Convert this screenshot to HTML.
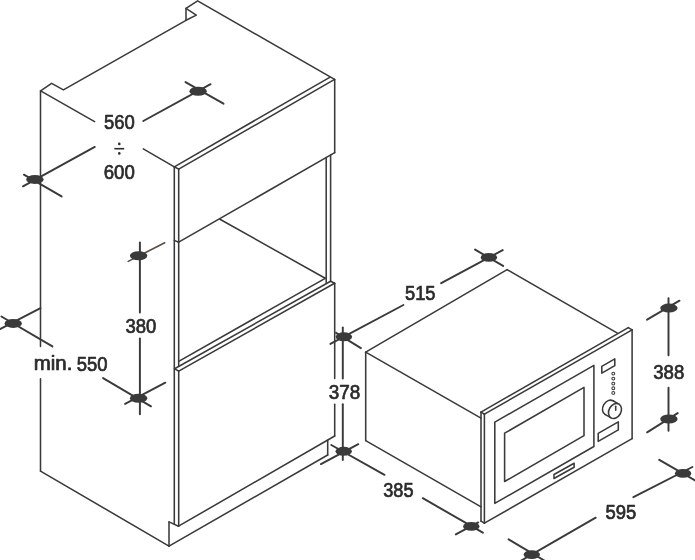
<!DOCTYPE html>
<html><head><meta charset="utf-8"><title>Installation dimensions</title>
<style>html,body{margin:0;padding:0;background:#fff;}body{width:695px;height:560px;overflow:hidden;}svg{display:block;}text{font-family:"Liberation Sans",sans-serif;}</style></head><body>
<svg width="695" height="560" viewBox="0 0 695 560">
<rect width="695" height="560" fill="#fff"/>
<g fill="none" stroke="#3a3a3a" stroke-width="1.55" stroke-linecap="round" stroke-linejoin="round">
<polyline points="40.60,90.85 51.60,83.40 63.40,89.90 186.00,20.30"/>
<polyline points="186.00,20.30 186.00,8.40 197.60,0.90 334.60,79.40"/>
<polyline points="186.00,8.40 196.30,15.10 186.00,20.30"/>
<polyline points="40.50,90.85 40.50,346.40"/>
<polyline points="40.50,378.80 40.50,471.10"/>
<polyline points="40.50,471.10 169.00,546.10"/>
<polyline points="40.60,90.85 94.60,121.70"/>
<polyline points="143.30,148.80 174.30,166.80"/>
<polyline points="174.30,166.80 329.70,77.30"/>
<polyline points="178.70,169.10 334.60,79.40"/>
<polyline points="174.30,166.80 178.70,169.10"/>
<polyline points="174.30,166.80 174.30,523.60"/>
<polyline points="178.70,169.10 178.70,365.90"/>
<polyline points="178.70,371.10 178.70,526.20"/>
<polyline points="334.70,79.40 334.70,152.70"/>
<polyline points="334.70,152.70 178.70,242.20"/>
<polyline points="174.30,240.40 178.70,242.20"/>
<polyline points="219.90,219.20 325.20,278.30"/>
<polyline points="326.20,157.60 326.20,282.50"/>
<polyline points="330.60,155.10 330.60,281.20"/>
<polyline points="325.20,278.30 178.70,361.30"/>
<polyline points="330.60,281.20 174.60,368.80"/>
<polyline points="334.60,283.30 178.70,371.10"/>
<polyline points="330.60,281.20 334.60,283.30"/>
<polyline points="174.60,368.80 178.70,371.10"/>
<polyline points="334.70,283.30 334.70,378.40"/>
<polyline points="334.70,404.30 334.70,436.00"/>
<polyline points="334.70,436.00 178.50,526.20"/>
<polyline points="169.00,521.90 178.50,526.20"/>
<polyline points="169.00,521.90 169.00,546.10"/>
<polyline points="169.00,546.10 327.70,455.00"/>
<polyline points="327.70,455.00 327.70,440.20"/>
<polyline points="365.70,352.20 507.10,269.60"/>
<polyline points="507.10,269.60 617.40,333.20"/>
<polyline points="365.70,352.20 481.00,418.20"/>
<polyline points="365.70,352.20 365.70,440.60"/>
<polyline points="365.70,440.60 481.10,506.80"/>
<polyline points="481.00,412.10 628.30,327.60"/>
<polyline points="484.40,414.20 632.10,329.80"/>
<polyline points="481.00,412.10 484.40,414.20"/>
<polyline points="628.30,327.60 632.10,329.80"/>
<polyline points="481.00,412.10 481.00,521.20"/>
<polyline points="484.40,414.20 484.40,523.20"/>
<polyline points="481.00,521.20 484.40,523.20"/>
<polyline points="632.10,329.80 632.10,438.60"/>
<polyline points="484.40,523.20 632.10,438.60"/>
<polyline points="494.80,422.20 593.90,365.30 593.90,446.50 494.80,503.40 494.80,422.20"/>
<polyline points="504.60,433.20 584.00,387.40 584.00,435.70 504.60,481.50 504.60,433.20"/>
<polyline points="554.00,474.50 574.10,463.20 574.10,467.20 554.00,478.50 554.00,474.50"/>
<polyline points="601.80,366.40 614.80,358.80 614.80,365.60 601.80,373.20 601.80,366.40"/>
<polyline points="598.20,433.40 618.30,421.90 618.30,429.90 598.20,441.40 598.20,433.40"/>
<ellipse cx="609.0" cy="407.6" rx="7.9" ry="6.0" transform="rotate(-60 609.0 407.6)"/>
<polygon points="612.95,400.76 618.95,404.16 611.05,417.84 605.05,414.44" fill="#fff" stroke="none"/>
<line x1="612.95" y1="400.76" x2="618.95" y2="404.16"/>
<line x1="605.05" y1="414.44" x2="611.05" y2="417.84"/>
<ellipse cx="615.0" cy="411.0" rx="7.9" ry="6.0" transform="rotate(-60 615.0 411.0)" fill="#fff"/>
<line x1="615.7" y1="406.3" x2="615.7" y2="410.2"/>
<circle cx="613.3" cy="373.6" r="1.45" stroke-width="1.05"/>
<circle cx="613.3" cy="378.6" r="1.45" stroke-width="1.05"/>
<circle cx="613.3" cy="383.6" r="1.45" stroke-width="1.05"/>
<circle cx="613.3" cy="388.3" r="1.45" stroke-width="1.05"/>
<circle cx="613.3" cy="392.9" r="1.45" stroke-width="1.05"/>
</g>
<g fill="none" stroke="#3a3a3a" stroke-width="1.95" stroke-linecap="round">
<polyline points="185.50,82.10 223.50,103.70"/>
<polyline points="143.30,121.00 210.60,84.20"/>
<polyline points="23.90,174.70 61.60,196.40"/>
<polyline points="23.00,186.30 94.80,146.90"/>
<polyline points="139.90,242.40 139.90,312.60"/>
<polyline points="139.90,338.40 139.90,414.30"/>
<polyline points="125.10,403.90 165.30,382.70"/>
<polyline points="0.00,329.10 40.50,308.20"/>
<polyline points="1.40,316.50 52.40,346.40"/>
<polyline points="103.10,378.10 151.00,406.30"/>
<polyline points="342.80,327.40 342.80,378.40"/>
<polyline points="342.80,404.30 342.80,460.00"/>
<polyline points="336.10,332.80 360.90,348.10"/>
<polyline points="320.90,464.10 358.30,444.20"/>
<polyline points="330.40,343.90 403.40,305.00"/>
<polyline points="441.20,283.20 502.70,250.10"/>
<polyline points="475.10,249.60 503.10,265.90"/>
<polyline points="331.30,445.00 384.50,474.80"/>
<polyline points="422.80,498.20 482.80,532.70"/>
<polyline points="455.80,534.40 478.20,522.40"/>
<polyline points="668.50,298.10 668.50,355.30"/>
<polyline points="668.50,387.80 668.50,430.80"/>
<polyline points="647.10,319.70 679.50,300.70"/>
<polyline points="647.10,432.30 677.70,413.10"/>
<polyline points="508.60,539.30 545.00,561.00"/>
<polyline points="520.00,561.30 595.70,517.70"/>
<polyline points="633.40,497.20 692.40,467.00"/>
<polyline points="659.30,459.80 696.00,481.00"/>
</g>
<line x1="128.2" y1="261.4" x2="164.7" y2="242.8" stroke="#5b4b45" stroke-width="1.6" stroke-linecap="round"/>
<g fill="#3a3a3a">
<ellipse cx="198.1" cy="91.2" rx="8.7" ry="4.5"/>
<ellipse cx="34.9" cy="179.4" rx="8.7" ry="4.5"/>
<ellipse cx="138.6" cy="255.7" rx="8.7" ry="4.5"/>
<ellipse cx="138.6" cy="398.3" rx="8.7" ry="4.5"/>
<ellipse cx="13.2" cy="323.4" rx="8.7" ry="4.5"/>
<ellipse cx="343.9" cy="336.8" rx="8.2" ry="4.45"/>
<ellipse cx="343.7" cy="451.3" rx="8.2" ry="4.45"/>
<ellipse cx="488.9" cy="257.4" rx="8.2" ry="4.45"/>
<ellipse cx="471.3" cy="526.4" rx="8.2" ry="4.45"/>
<ellipse cx="668.9" cy="308.1" rx="8.7" ry="4.5"/>
<ellipse cx="668.9" cy="419.0" rx="8.7" ry="4.5"/>
<ellipse cx="531.8" cy="554.6" rx="8.2" ry="4.45"/>
<ellipse cx="683.1" cy="473.4" rx="8.2" ry="4.45"/>
</g>
<g style="filter:grayscale(1)" fill="#2b2b2b" stroke="#2b2b2b" stroke-width="0.7" stroke-linejoin="round">
<text x="104.0" y="129.0" font-size="19.4" textLength="30.77" lengthAdjust="spacingAndGlyphs">560</text>
<text x="103.75" y="179.0" font-size="19.4" textLength="31.03" lengthAdjust="spacingAndGlyphs">600</text>
<text x="125.5" y="332.8" font-size="19.4" textLength="30.77" lengthAdjust="spacingAndGlyphs">380</text>
<text x="33.75" y="370.25" font-size="19.4" textLength="38.65" lengthAdjust="spacingAndGlyphs">min.</text>
<text x="76.75" y="370.5" font-size="19.4" textLength="30.82" lengthAdjust="spacingAndGlyphs">550</text>
<text x="405.0" y="300.25" font-size="19.4" textLength="30.52" lengthAdjust="spacingAndGlyphs">515</text>
<text x="328.75" y="399.25" font-size="19.4" textLength="31.53" lengthAdjust="spacingAndGlyphs">378</text>
<text x="383.25" y="497.25" font-size="19.4" textLength="30.26" lengthAdjust="spacingAndGlyphs">385</text>
<text x="653.25" y="379.25" font-size="19.4" textLength="31.02" lengthAdjust="spacingAndGlyphs">388</text>
<text x="605.5" y="519.25" font-size="19.4" textLength="30.77" lengthAdjust="spacingAndGlyphs">595</text>
<g stroke="none"><rect x="114.4" y="147.9" width="9.8" height="1.6"/><circle cx="119.3" cy="143.9" r="1.3"/><circle cx="119.3" cy="153.4" r="1.3"/></g>
</g>
</svg></body></html>
